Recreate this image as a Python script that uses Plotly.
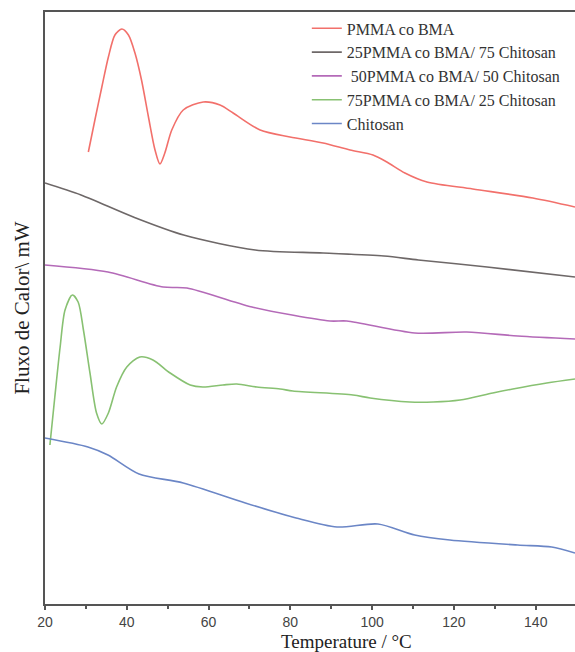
import plotly.graph_objects as go

# Temperature (°C) and heat flow (arbitrary units)
pmma_T = [30.6, 32.2, 33.9, 35.5, 37.1, 38.8, 40.4, 42.0, 43.6, 45.3, 46.9, 48.1, 49.3, 51.0, 53.8, 58.7, 62.8, 66.0, 72.6, 79.9, 88.0, 94.6, 100.2, 103.6, 108.0, 113.4, 124.6, 139.3, 149.6]
pmma_Q = [452, 484, 517, 547, 569, 575, 569, 551, 524, 487, 454, 440, 451, 474, 494, 502, 499, 491, 474, 467, 461, 454, 449, 442, 431, 422, 415, 406, 397]

c25_T = [20.0, 28.8, 41.6, 53.9, 71.4, 88.0, 102.9, 111.3, 128.1, 149.6]
c25_Q = [421, 409, 387, 369, 354, 351, 348, 344, 337, 327]

c50_T = [20.0, 35.4, 48.9, 54.7, 70.6, 89.7, 93.8, 110.4, 123.1, 135.6, 149.6]
c50_Q = [339, 332, 317, 316, 297, 283, 283, 271, 272, 268, 265]

c75_T = [21.2, 22.4, 23.7, 24.9, 26.7, 28.1, 29.4, 31.0, 32.6, 33.9, 35.5, 37.5, 40.0, 43.2, 46.4, 50.6, 55.5, 58.6, 63.5, 66.9, 71.8, 77.5, 80.6, 95.3, 99.5, 109.2, 114.9, 121.5, 129.5, 134.4, 142.7, 149.6]
c75_Q = [159, 207, 257, 294, 309, 302, 274, 231, 191, 180, 191, 217, 237, 247, 244, 231, 219, 217, 219, 220, 217, 215, 213, 209, 206, 202, 202, 204, 211, 215, 221, 225]

chit_T = [20.0, 30.5, 35.4, 43.0, 53.8, 69.0, 81.4, 91.4, 101.4, 110.4, 119.0, 135.6, 143.9, 149.6]
chit_Q = [166, 157, 149, 130, 121, 101, 86, 77, 80, 69, 64, 59, 57, 51]

series = [
    ("PMMA co BMA", pmma_T, pmma_Q, "#f2706b"),
    ("25PMMA co BMA/ 75 Chitosan", c25_T, c25_Q, "#6e6868"),
    (" 50PMMA co BMA/ 50 Chitosan", c50_T, c50_Q, "#b46ab8"),
    ("75PMMA co BMA/ 25 Chitosan", c75_T, c75_Q, "#88c172"),
    ("Chitosan", chit_T, chit_Q, "#6b86c6"),
]

fig = go.Figure()
for name, xs, ys, col in series:
    fig.add_trace(go.Scatter(x=xs, y=ys, name=name, mode="lines",
                             line=dict(color=col, width=1.6, shape="spline", smoothing=0.8)))

fig.update_layout(
    width=575, height=652,
    margin=dict(l=45, r=0, t=12, b=48),
    plot_bgcolor="white", paper_bgcolor="white",
    showlegend=True,
    legend=dict(x=0.494, y=1.001, xanchor="left", yanchor="top",
                font=dict(family="Liberation Serif", size=16, color="#333333"),
                bgcolor="rgba(0,0,0,0)", tracegroupgap=0, itemwidth=30),
    xaxis=dict(range=[20, 149.6], dtick=20, tick0=20, showgrid=False, zeroline=False,
               automargin=False,
               showline=True, linecolor="#555555", linewidth=2, mirror=True,
               ticks="outside", ticklen=4, tickcolor="#555555", tickwidth=1.5,
               ticklabelstandoff=0,
               minor=dict(ticks="outside", ticklen=3, dtick=10, tickcolor="#555555", showgrid=False),
               tickfont=dict(family="Liberation Sans", size=14, color="#444444")),
    yaxis=dict(range=[0, 592], showticklabels=False, ticks="", showgrid=False, zeroline=False,
               automargin=False,
               showline=True, linecolor="#555555", linewidth=2, mirror=False,
               title=dict(text="Fluxo de Calor\\ mW", standoff=8,
                          font=dict(family="Liberation Serif", size=21, color="#222222"))),
    annotations=[dict(text="Temperature / °C", xref="paper", yref="paper",
                      x=0.568, y=-0.064, xanchor="center", yanchor="middle",
                      showarrow=False,
                      font=dict(family="Liberation Serif", size=19, color="#222222"))],
)

fig.write_html("out.html")
